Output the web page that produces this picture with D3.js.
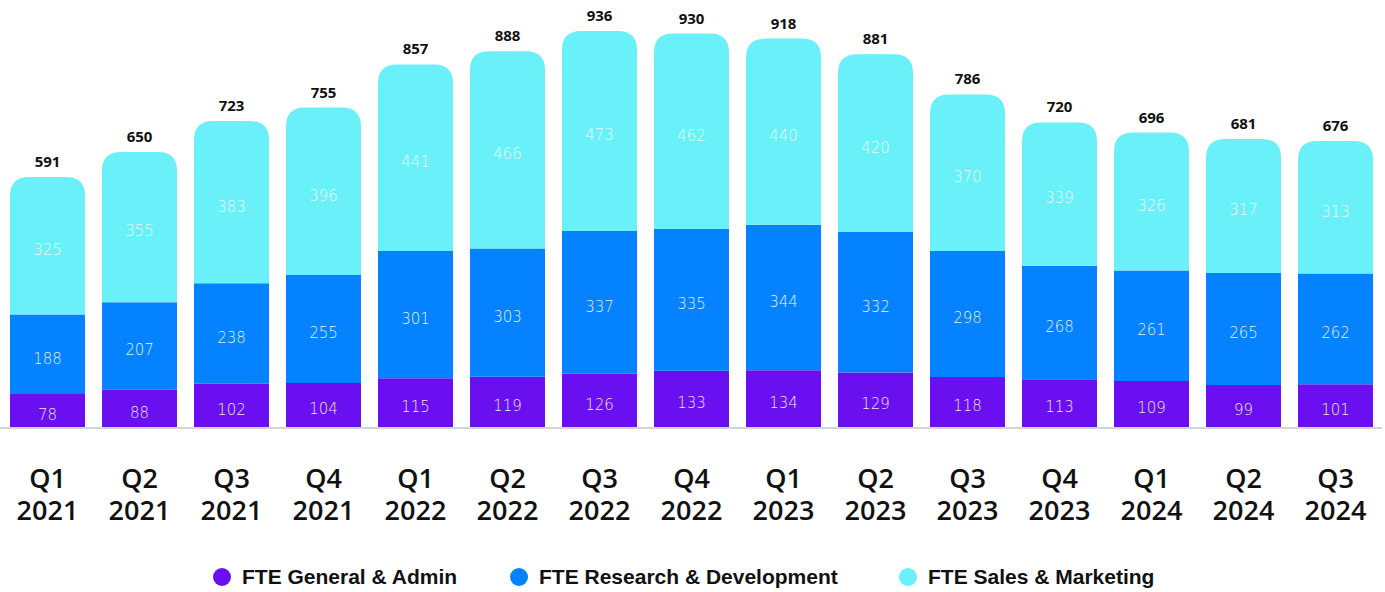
<!DOCTYPE html>
<html lang="en">
<head>
<meta charset="UTF-8">
<title>FTE by quarter</title>
<script src="https://d3js.org/d3.v7.min.js"></script>
<style>
  body { margin: 0; background: #fff; }
  svg { display: block; }
  .total { font-family: 'Open Sans', sans-serif; font-weight: 700; font-size: 15px; fill: #111; }
  .seg { font-family: 'DejaVu Sans', sans-serif; font-weight: 200; font-size: 15px; fill: #fff; fill-opacity: 0.9; }
  .xlab { font-family: 'Open Sans', sans-serif; font-weight: 600; font-size: 27px; fill: #111; }
  .legend { font-family: 'Liberation Sans', Arial, sans-serif; font-weight: 700; font-size: 21px; fill: #111; }
</style>
</head>
<body>
<svg id="chart" width="1385" height="592"></svg>
<script>
// quarters and years (x labels)
const quarters = ["Q1","Q2","Q3","Q4","Q1","Q2","Q3","Q4","Q1","Q2","Q3","Q4","Q1","Q2","Q3"];
const years = ["2021","2021","2021","2021","2022","2022","2022","2022","2023","2023","2023","2023","2024","2024","2024"];

// series, bottom to top
const generalAdmin = [78, 88, 102, 104, 115, 119, 126, 133, 134, 129, 118, 113, 109, 99, 101];
const researchDev = [188, 207, 238, 255, 301, 303, 337, 335, 344, 332, 298, 268, 261, 265, 262];
const salesMarketing = [325, 355, 383, 396, 441, 466, 473, 462, 440, 420, 370, 339, 326, 317, 313];

const seriesNames = ["FTE General & Admin", "FTE Research & Development", "FTE Sales & Marketing"];
const colors = ["#6a10f0", "#0582ff", "#6af0f8"];

const keys = quarters.map((q, i) => q + " " + years[i]);
const rows = keys.map((k, i) => ({
  key: k,
  ga: generalAdmin[i],
  rd: researchDev[i],
  sm: salesMarketing[i]
}));

const svg = d3.select("#chart");

const x = d3.scaleBand()
  .domain(keys)
  .range([1.5, 1381.5])
  .paddingInner(0.185)
  .paddingOuter(0.0925);

const y = d3.scaleLinear()
  .domain([0, 936])
  .range([427, 31]);

const stack = d3.stack().keys(["ga", "rd", "sm"]);
const stacked = stack(rows);

const r = 19;
function topRounded(x0, y0, w, y1) {
  // rect with rounded top corners, y0 = top, y1 = bottom
  const rr = Math.min(r, w / 2, (y1 - y0));
  return `M${x0},${y1}V${y0 + rr}Q${x0},${y0} ${x0 + rr},${y0}H${x0 + w - rr}Q${x0 + w},${y0} ${x0 + w},${y0 + rr}V${y1}Z`;
}

// baseline
svg.append("line")
  .attr("x1", 0).attr("x2", 1382)
  .attr("y1", y(0) + 1).attr("y2", y(0) + 1)
  .attr("stroke", "#d4d4d4").attr("stroke-width", 2);

stacked.forEach((layer, li) => {
  const g = svg.append("g");
  g.selectAll("path")
    .data(layer)
    .join("path")
    .attr("fill", colors[li])
    .attr("d", d => {
      const x0 = x(d.data.key), w = x.bandwidth();
      if (li === 2) return topRounded(x0, y(d[1]), w, y(d[0]));
      return `M${x0},${y(d[0])}V${y(d[1])}H${x0 + w}V${y(d[0])}Z`;
    });

  g.selectAll("text")
    .data(layer)
    .join("text")
    .attr("class", "seg")
    .attr("x", d => x(d.data.key) + x.bandwidth() / 2)
    .attr("y", d => (y(d[0]) + y(d[1])) / 2 + 4)
    .attr("dy", "0.36em")
    .attr("text-anchor", "middle")
    .text(d => d[1] - d[0]);
});

// totals
svg.append("g").selectAll("text")
  .data(rows)
  .join("text")
  .attr("class", "total")
  .attr("x", d => x(d.key) + x.bandwidth() / 2)
  .attr("y", d => y(d.ga + d.rd + d.sm) - 10)
  .attr("text-anchor", "middle")
  .text(d => d.ga + d.rd + d.sm);

// x labels, two lines
const xg = svg.append("g");
xg.selectAll("text.q")
  .data(keys)
  .join("text")
  .attr("class", "xlab q")
  .attr("text-anchor", "middle")
  .attr("x", d => x(d) + x.bandwidth() / 2)
  .attr("y", 488)
  .text((d, i) => quarters[i]);
xg.selectAll("text.yr")
  .data(keys)
  .join("text")
  .attr("class", "xlab yr")
  .attr("text-anchor", "middle")
  .attr("x", d => x(d) + x.bandwidth() / 2)
  .attr("y", 520)
  .text((d, i) => years[i]);

// legend
const legendX = [222, 519, 908];
const lg = svg.append("g").selectAll("g")
  .data(seriesNames)
  .join("g")
  .attr("transform", (d, i) => `translate(${legendX[i]},577)`);
lg.append("circle").attr("r", 9).attr("fill", (d, i) => colors[i]);
lg.append("text").attr("class", "legend").attr("x", 20).attr("y", 7).text(d => d);
</script>
</body>
</html>
